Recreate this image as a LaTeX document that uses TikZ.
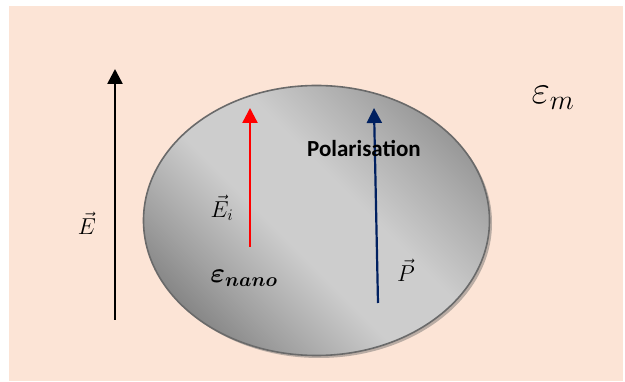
\RequirePackage{fix-cm}
\documentclass[tikz,border=0pt]{standalone}
\usepackage{fontspec}
\usepackage{bm}
\newfontfamily\calibri{Carlito}
\usetikzlibrary{arrows.meta}
\definecolor{peach}{HTML}{FCE4D6}
\definecolor{navyb}{HTML}{002060}
\definecolor{rimgray}{HTML}{6A6A6A}
\definecolor{shadowc}{HTML}{B9ACA4}
\definecolor{gA}{HTML}{737373}
\definecolor{gB}{HTML}{A2A2A2}
\definecolor{gC}{HTML}{CDCDCD}
\definecolor{gD}{HTML}{ABABAB}
\definecolor{gE}{HTML}{828282}
\pgfdeclarehorizontalshading{particleshade}{100bp}{%
  color(0bp)=(gA); color(23bp)=(gA); color(34bp)=(gB);
  color(45bp)=(gC); color(56bp)=(gC); color(67bp)=(gD);
  color(79bp)=(gE); color(100bp)=(gE)}
\tikzset{
  fieldarrow/.style={line width=2.6pt,-{Triangle[length=15pt,width=15pt]}},
  mathlabel/.style={inner sep=0pt,font=\fontsize{23}{26}\selectfont},
}
\begin{document}
\begin{tikzpicture}[x=1pt,y=-1pt]
\useasboundingbox (0,0) rectangle (625,382);
% background
\fill[peach] (9,6) rectangle (623,381);
% shadow
\fill[shadowc] (319,223) ellipse [x radius=173, y radius=135];
% particle
\begin{scope}
  \clip (316.5,220.5) ellipse [x radius=173, y radius=135];
  \shade[shading=particleshade, shading angle=45] (316.5,220.5) circle [radius=173];
\end{scope}
\draw[rimgray, line width=1.6pt] (316.5,220.5) ellipse [x radius=173, y radius=135];
% arrows
\coordinate (e0) at (115,320);
\coordinate (e1) at (115,69);
\coordinate (r0) at (250,247);
\coordinate (r1) at (250,108);
\coordinate (p0) at (378,303);
\coordinate (p1) at (374,108);
\draw[fieldarrow, black] (e0) -- (e1);
\draw[fieldarrow, red, line width=2.4pt] (r0) -- (r1);
\draw[fieldarrow, navyb, line width=2.2pt] (p0) -- (p1);
% labels
\node[mathlabel] (lE) at (87,223) {$\vec{E}$};
\node[mathlabel] (lEi) at (222,208) {$\vec{E}_i$};
\node[mathlabel] (lP) at (406,270) {$\vec{P}$};
\node[inner sep=0pt, font=\fontsize{28}{32}\selectfont] (lnano) at (244,278) {$\bm{\varepsilon}_{\bm{nano}}$};
\node[inner sep=0pt, font=\fontsize{40}{44}\selectfont] (lm) at (553,98) {$\varepsilon_m$};
\node[inner sep=0pt, font=\calibri\bfseries\fontsize{23}{26}\selectfont] (lpol) at (364,149) {Polarisation};
\end{tikzpicture}
\end{document}
